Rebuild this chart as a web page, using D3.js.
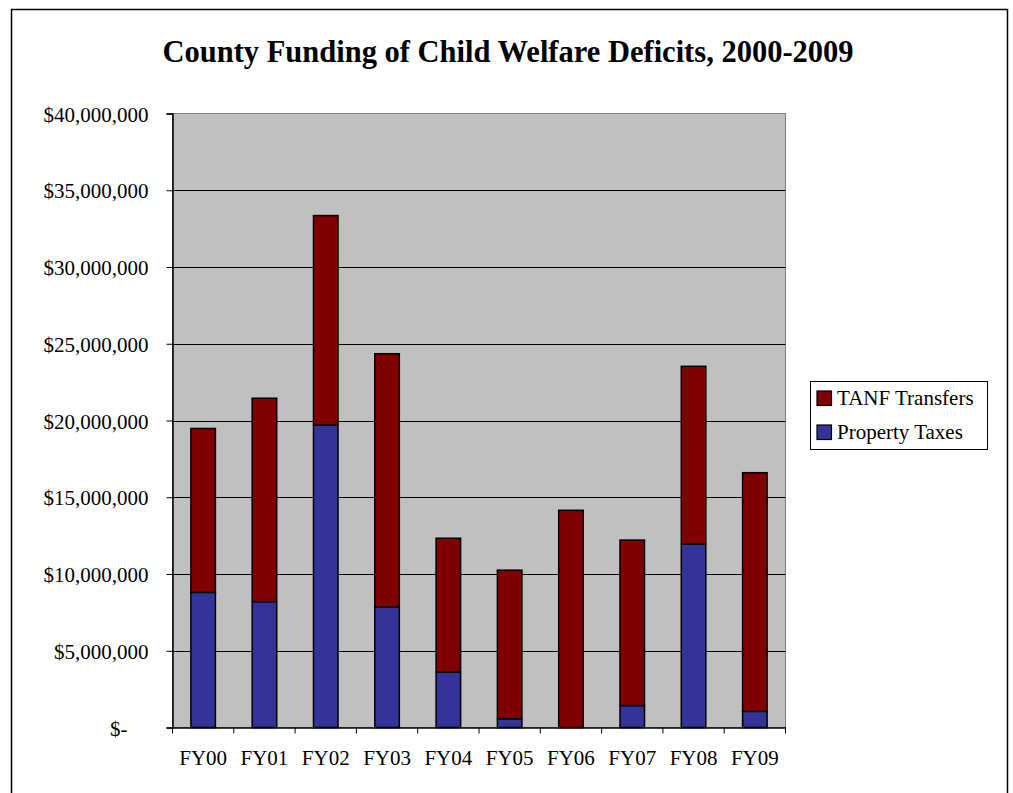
<!DOCTYPE html>
<html>
<head>
<meta charset="utf-8">
<script src="https://cdn.jsdelivr.net/npm/d3@7"></script>
<style>
  html, body { margin: 0; padding: 0; background: #fff; }
  svg { display: block; }
  text { font-family: "Liberation Serif", "Times New Roman", serif; fill: #000; }
</style>
</head>
<body>
<svg id="chart" width="1013" height="793"></svg>
<script>
// Fiscal years
const categories = ["FY00", "FY01", "FY02", "FY03", "FY04", "FY05", "FY06", "FY07", "FY08", "FY09"];
// County deficit funding by source (dollars)
const propertyTaxes = [8800000, 8200000, 19700000, 7850000, 3600000, 570000, 0, 1430000, 11950000, 1050000];
const tanfTransfers = [10680000, 13250000, 13650000, 16500000, 8730000, 9680000, 14150000, 10780000, 11580000, 15550000];
const seriesNames = ["Property Taxes", "TANF Transfers"];
const seriesColors = ["#333399", "#800000"];
const yTicks = [0, 5000000, 10000000, 15000000, 20000000, 25000000, 30000000, 35000000, 40000000];
const titleText = "County Funding of Child Welfare Deficits, 2000-2009";

const svg = d3.select("#chart");
const plot = { left: 172.5, top: 113.5, right: 785.5, bottom: 727.5 };
const labelSize = 21;

// Chart frame
svg.append("rect")
  .attr("x", 11.5).attr("y", 9.5)
  .attr("width", 996).attr("height", 800)
  .attr("fill", "#fff").attr("stroke", "#000").attr("stroke-width", 1.5);

// Title
svg.append("text")
  .attr("x", 508).attr("y", 62)
  .attr("text-anchor", "middle")
  .attr("font-size", 30.5).attr("font-weight", "bold")
  .text(titleText);

const x = d3.scaleBand()
  .domain(categories)
  .range([plot.left, plot.right])
  .paddingInner(0.6)
  .paddingOuter(0.3);

const y = d3.scaleLinear()
  .domain([0, 40000000])
  .range([plot.bottom, plot.top]);

// Plot background
svg.append("rect")
  .attr("x", plot.left).attr("y", plot.top)
  .attr("width", plot.right - plot.left).attr("height", plot.bottom - plot.top)
  .attr("fill", "#c0c0c0").attr("stroke", "#808080").attr("stroke-width", 1);

// Horizontal gridlines
svg.append("g")
  .selectAll("line")
  .data(yTicks.filter(v => v > 0 && v < 40000000))
  .join("line")
  .attr("x1", plot.left).attr("x2", plot.right)
  .attr("y1", d => Math.round(y(d)) + 0.5).attr("y2", d => Math.round(y(d)) + 0.5)
  .attr("stroke", "#000").attr("stroke-width", 1);

// Stacked bars
const rows = categories.map((c, i) => ({
  cat: c,
  "Property Taxes": propertyTaxes[i],
  "TANF Transfers": tanfTransfers[i]
}));
const stacked = d3.stack().keys(seriesNames)(rows);

svg.append("g")
  .selectAll("g")
  .data(stacked)
  .join("g")
  .attr("fill", (d, i) => seriesColors[i])
  .selectAll("rect")
  .data(d => d.filter(p => p[1] - p[0] > 0))
  .join("rect")
  .attr("x", d => x(d.data.cat))
  .attr("width", x.bandwidth())
  .attr("y", d => y(d[1]))
  .attr("height", d => y(d[0]) - y(d[1]))
  .attr("stroke", "#000").attr("stroke-width", 1.5);

// Y axis
const fmt = d3.format(",");
const yAxis = svg.append("g")
  .attr("transform", `translate(${plot.left},0)`)
  .call(d3.axisLeft(y)
    .tickValues(yTicks)
    .tickSize(6)
    .tickPadding(18)
    .tickFormat(d => d === 0 ? "$-" : "$" + fmt(d)));
yAxis.select(".domain").attr("stroke", "#000").attr("stroke-width", 1.5);
yAxis.selectAll(".tick line").attr("stroke", "#000");
yAxis.selectAll(".tick text")
  .attr("font-size", labelSize)
  .attr("font-family", "Liberation Serif, Times New Roman, serif")
  .attr("dy", "0.36em")
  .attr("dx", d => d === 0 ? -21 : 0);

// X axis: labels centred on bars, ticks on category boundaries
const xAxis = svg.append("g")
  .attr("transform", `translate(0,${plot.bottom})`)
  .call(d3.axisBottom(x).tickSize(0).tickPadding(23));
xAxis.select(".domain").attr("stroke", "#000").attr("stroke-width", 1.5);
xAxis.selectAll(".tick text")
  .attr("font-size", labelSize)
  .attr("font-family", "Liberation Serif, Times New Roman, serif");
const step = x.step();
xAxis.append("g")
  .selectAll("line")
  .data(d3.range(categories.length + 1))
  .join("line")
  .attr("x1", i => plot.left + i * step).attr("x2", i => plot.left + i * step)
  .attr("y1", 0).attr("y2", 6)
  .attr("stroke", "#000");

// Legend
const legend = svg.append("g");
legend.append("rect")
  .attr("x", 810.5).attr("y", 381.5)
  .attr("width", 177).attr("height", 68)
  .attr("fill", "#fff").attr("stroke", "#000");
const legendItems = [
  { name: "TANF Transfers", color: seriesColors[1] },
  { name: "Property Taxes", color: seriesColors[0] }
];
const li = legend.selectAll("g.item")
  .data(legendItems)
  .join("g")
  .attr("class", "item")
  .attr("transform", (d, i) => `translate(0,${i * 34})`);
li.append("rect")
  .attr("x", 817).attr("y", 391)
  .attr("width", 14.5).attr("height", 14.5)
  .attr("fill", d => d.color).attr("stroke", "#000").attr("stroke-width", 1.2);
li.append("text")
  .attr("x", 837).attr("y", 405)
  .attr("font-size", labelSize)
  .text(d => d.name);
</script>
</body>
</html>
